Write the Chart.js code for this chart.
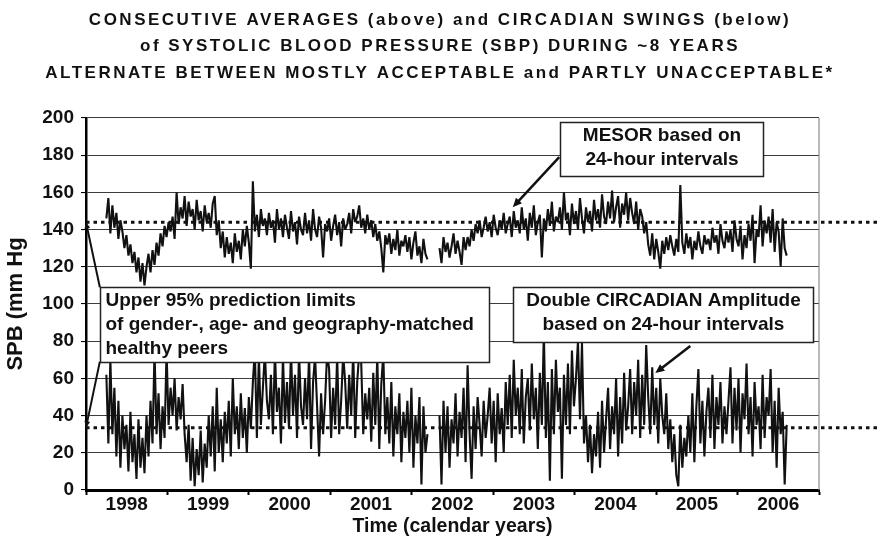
<!DOCTYPE html>
<html>
<head>
<meta charset="utf-8">
<title>SBP MESOR and circadian amplitude</title>
<script src="https://cdn.jsdelivr.net/npm/chart.js@4.4.1/dist/chart.umd.min.js"></script>
<style>
	html, body { margin: 0; padding: 0; background: #fff; }
	#chart { display: block; }
</style>
</head>
<body>
<canvas id="chart" width="880" height="538"></canvas>
<script>
(function () {
	'use strict';

	// samples, one every ~9 days from spring 1998
	var firstSampleYear = 1998.25;
	var sampleStepYears = 9 / 365.25;

	// MESOR (24-hour mean SBP), mm Hg
	var mesor = [
		146, 157, 138, 153, 141, 149, 135, 145, 139, 130,
		137, 126, 132, 122, 128, 117, 125, 112, 122, 110,
		120, 127, 117, 129, 121, 133, 126, 138, 131, 142,
		136, 144, 139, 147, 135, 160, 143, 152, 146, 158,
		142, 155, 147, 151, 140, 156, 145, 150, 139, 153,
		144, 149, 141, 154, 158, 137, 145, 130, 139, 125,
		136, 127, 133, 122, 138, 128, 134, 124, 140, 131,
		142, 133, 119, 166, 139, 148, 136, 151, 142, 146,
		137, 149, 141, 145, 133, 151, 140, 146, 136, 148,
		141, 135, 150, 139, 144, 132, 147, 140, 137, 149,
		138, 145, 134, 151, 140, 136, 147, 141, 125, 143,
		139, 146, 134, 142, 148, 137, 144, 131, 146, 140,
		143, 149, 138, 151, 144, 147, 153, 141, 146, 138,
		148, 140, 145, 136, 143, 134, 139, 130, 117, 137,
		132, 138, 127, 135, 129, 140, 126, 134, 131, 137,
		128, 136, 124, 133, 139, 126, 131, 122, 135, 127,
		124, null, null, null, null, null, 130, 122, 136, 128,
		133, 125, 131, 138, 127, 134, 128, 121, 136, 129,
		136, 131, 140, 134, 143, 138, 145, 136, 141, 147,
		139, 144, 136, 148, 141, 137, 145, 140, 149, 138,
		143, 147, 136, 150, 141, 145, 138, 152, 140, 146,
		134, 149, 141, 153, 137, 144, 148, 125, 146, 139,
		151, 142, 155, 139, 147, 144, 152, 140, 160, 145,
		149, 137, 154, 143, 150, 140, 157, 146, 138, 152,
		144, 150, 139, 156, 145, 151, 141, 159, 147, 143,
		155, 146, 161, 144, 152, 158, 141, 154, 148, 160,
		145, 157, 149, 143, 155, 140, 151, 147, 138, 144,
		132, 126, 138, 124, 135, 128, 119, 134, 127, 136,
		129, 137, 131, 126, 135, 128, 164, 133, 127, 138,
		130, 136, 124, 134, 129, 139, 131, 127, 137, 132,
		135, 129, 141, 133, 137, 127, 143, 134, 130, 139,
		133, 140, 128, 145, 135, 131, 142, 124, 137, 130,
		143, 134, 148, 122, 140, 136, 153, 131, 145, 138,
		147, 133, 151, 128, 144, 139, 120, 146, 130, 126
	];

	// double circadian amplitude, mm Hg
	var amplitude = [
		62, 25, 70, 30, 55, 18, 48, 12, 40, 22,
		35, 10, 42, 15, 30, 6, 38, 12, 28, 9,
		40, 18, 48, 25, 75, 30, 52, 22, 45, 28,
		75, 35, 55, 40, 60, 32, 50, 38, 57, 30,
		15, 35, 5, 28, 2, 22, 8, 32, 4, 25,
		12, 40, 18, 45, 10, 55, 20, 38, 15, 42,
		25, 48, 18, 60, 30, 45, 22, 52, 28, 44,
		20, 50, 33, 58, 75, 28, 72, 35, 55, 74,
		48, 38, 62, 30, 75, 42, 55, 25, 72, 36,
		58, 33, 75, 40, 62, 28, 74, 45, 35, 60,
		38, 73, 22, 58, 72, 45, 18, 52, 30, 48,
		74, 65, 28, 55, 35, 72, 30, 48, 73, 58,
		33, 62, 40, 75, 28, 58, 74, 68, 30, 52,
		38, 55, 26, 63, 35, 72, 22, 57, 73, 30,
		50, 25, 58, 18, 45, 30, 52, 15, 42, 28,
		48, 20, 55, 12, 40, 25, 50, 3, 45, 20,
		30, null, null, null, null, null, 40, 3, 48, 20,
		45, 12, 38, 25, 52, 18, 42, 28, 55, 15,
		67, 30, 6, 45, 22, 50, 35, 18, 48, 28,
		40, 55, 25, 48, 15, 52, 30, 44, 20, 58,
		35, 62, 28, 70, 40, 55, 30, 65, 25, 50,
		60, 32, 68, 38, 55, 22, 63, 35, 85, 28,
		58, 5, 65, 30, 70, 42, 55, 6, 62, 35,
		68, 30, 75, 45, 60, 80, 38, 79, 25, 40,
		15, 35, 9, 30, 18, 42, 12, 48, 20, 38,
		55, 22, 45, 30, 60, 18, 50, 25, 63, 32,
		45, 65, 30, 58, 40, 70, 28, 62, 35, 78,
		50, 30, 66, 35, 55, 25, 60, 40, 30, 52,
		22, 38, 15, 30, 8, 2, 35, 12, 28, 18,
		40, 20, 52, 15, 45, 65, 25, 48, 18, 42,
		55, 28, 62, 22, 50, 35, 58, 25, 45, 30,
		48, 66, 25, 55, 32, 60, 20, 52, 38, 68,
		30, 50, 18, 58, 35, 45, 22, 62, 28, 50,
		40, 65, 20, 48, 12, 55, 30, 42, 3, 35
	];

	// upper 95% prediction limits of matched healthy peers
	var mesorLimit = 144;
	var amplitudeLimit = 33.5;
	var limitSpan = [1998, 2007.75]; // runs on past the plot edge

	var yearLabels = ['1998', '1999', '2000', '2001', '2002', '2003', '2004', '2005', '2006'];
	var firstYear = 1998;

	var titleLines = [
		'CONSECUTIVE AVERAGES (above) and CIRCADIAN SWINGS (below)',
		'of SYSTOLIC BLOOD PRESSURE (SBP) DURING ~8 YEARS',
		'ALTERNATE BETWEEN MOSTLY ACCEPTABLE and PARTLY UNACCEPTABLE*'
	];

	// callout boxes and arrows, in data units (year, mm Hg)
	var notes = [
		{ x0: 1998.17, x1: 2002.95, top: 109, bottom: 69, align: 'left',
			lines: ['Upper 95% prediction limits', 'of gender-, age- and geography-matched', 'healthy peers'] },
		{ x0: 2003.24, x1: 2006.93, top: 109, bottom: 79.6, align: 'center',
			lines: ['Double CIRCADIAN Amplitude', 'based on 24-hour intervals'] },
		{ x0: 2003.82, x1: 2006.31, top: 197.8, bottom: 168.8, align: 'center',
			lines: ['MESOR based on', '24-hour intervals'] }
	];

	var arrows = [
		{ from: [2003.81, 179], to: [2003.24, 152], width: 2.5, head: 10 },
		{ from: [2005.42, 77.4], to: [2004.99, 62.9], width: 2.5, head: 10 },
		{ from: [1998.17, 109], to: [1998, mesorLimit], width: 2, head: 7 },
		{ from: [1998.17, 69], to: [1998, amplitudeLimit], width: 2, head: 7 }
	];

	var FONT = '"Liberation Sans", Arial, Helvetica, sans-serif';
	var INK = '#111111';

	function toPoints(values) {
		return values.map(function (v, i) {
			return { x: firstSampleYear + i * sampleStepYears, y: v };
		});
	}

	function limitPoints(value) {
		return limitSpan.map(function (yr) {
			return { x: yr, y: value };
		});
	}

	function drawArrow(ctx, x1, y1, x2, y2, width, head) {
		var a = Math.atan2(y2 - y1, x2 - x1);
		ctx.lineWidth = width;
		ctx.beginPath();
		ctx.moveTo(x1, y1);
		ctx.lineTo(x2 - Math.cos(a) * head * 0.7, y2 - Math.sin(a) * head * 0.7);
		ctx.stroke();
		ctx.beginPath();
		ctx.moveTo(x2, y2);
		ctx.lineTo(x2 - head * Math.cos(a - 0.42), y2 - head * Math.sin(a - 0.42));
		ctx.lineTo(x2 - head * Math.cos(a + 0.42), y2 - head * Math.sin(a + 0.42));
		ctx.closePath();
		ctx.fill();
	}

	// title letters are spread out in the original
	var titleSpacing = {
		id: 'titleSpacing',
		afterInit: function (chart) {
			var block = chart.titleBlock;
			if (!block) {
				return;
			}
			var draw = block.draw;
			block.draw = function () {
				var ctx = chart.ctx;
				ctx.save();
				ctx.letterSpacing = '2.5px';
				draw.apply(block, arguments);
				ctx.restore();
			};
		}
	};

	var callouts = {
		id: 'callouts',
		beforeDatasetsDraw: function (chart) {
			var area = chart.chartArea;
			var ctx = chart.ctx;
			ctx.save();
			ctx.strokeStyle = '#8c8c8c';
			ctx.lineWidth = 1.2;
			ctx.beginPath();
			ctx.moveTo(area.right, area.top);
			ctx.lineTo(area.right, area.bottom);
			ctx.stroke();
			ctx.restore();
		},
		afterDraw: function (chart) {
			var ctx = chart.ctx;
			var xs = chart.scales.x;
			var ys = chart.scales.y;

			ctx.save();
			ctx.strokeStyle = INK;
			ctx.fillStyle = INK;
			arrows.forEach(function (a) {
				drawArrow(ctx,
					xs.getPixelForValue(a.from[0]), ys.getPixelForValue(a.from[1]),
					xs.getPixelForValue(a.to[0]), ys.getPixelForValue(a.to[1]),
					a.width, a.head);
			});

			notes.forEach(function (n) {
				var left = Math.round(xs.getPixelForValue(n.x0)) + 0.5;
				var right = Math.round(xs.getPixelForValue(n.x1)) + 0.5;
				var top = Math.round(ys.getPixelForValue(n.top)) + 0.5;
				var bottom = Math.round(ys.getPixelForValue(n.bottom)) + 0.5;

				ctx.fillStyle = '#ffffff';
				ctx.fillRect(left, top, right - left, bottom - top);
				ctx.strokeStyle = '#222222';
				ctx.lineWidth = 1.5;
				ctx.strokeRect(left, top, right - left, bottom - top);

				ctx.fillStyle = INK;
				ctx.font = 'bold 19px ' + FONT;
				ctx.textBaseline = 'middle';
				ctx.textAlign = n.align;
				var tx = n.align === 'left' ? left + 5 : (left + right) / 2;
				n.lines.forEach(function (line, i) {
					ctx.fillText(line, tx, top + 13.5 + i * 24);
				});
			});
			ctx.restore();
		}
	};

	Chart.defaults.font.family = FONT;
	Chart.defaults.font.weight = 'bold';
	Chart.defaults.color = INK;

	new Chart(document.getElementById('chart'), {
		type: 'line',
		data: {
			datasets: [
				{
					label: 'MESOR limit',
					data: limitPoints(mesorLimit),
					borderColor: INK,
					borderWidth: 3,
					borderDash: [3.5, 4],
					pointRadius: 0,
					clip: false
				},
				{
					label: 'Amplitude limit',
					data: limitPoints(amplitudeLimit),
					borderColor: INK,
					borderWidth: 3,
					borderDash: [3.5, 4],
					pointRadius: 0,
					clip: false
				},
				{
					label: 'MESOR',
					data: toPoints(mesor),
					borderColor: INK,
					borderWidth: 2.1,
					borderJoinStyle: 'bevel',
					pointRadius: 0,
					tension: 0
				},
				{
					label: 'Double circadian amplitude',
					data: toPoints(amplitude),
					borderColor: INK,
					borderWidth: 2.1,
					borderJoinStyle: 'bevel',
					pointRadius: 0,
					tension: 0
				}
			]
		},
		options: {
			responsive: false,
			animation: false,
			devicePixelRatio: 1,
			plugins: {
				legend: { display: false },
				tooltip: { enabled: false },
				title: {
					display: true,
					text: titleLines,
					color: INK,
					font: { size: 17, weight: 'bold', lineHeight: '26.5px' },
					padding: { top: 7, bottom: 31.5 }
				}
			},
			scales: {
				x: {
					type: 'linear',
					min: firstYear,
					max: firstYear + yearLabels.length,
					afterFit: function (scale) {
						scale.height = 48;
					},
					border: { display: true, color: '#000', width: 3 },
					grid: {
						drawOnChartArea: false,
						drawTicks: true,
						tickLength: 5,
						tickWidth: 2,
						tickColor: function (ctx) {
							return ctx.tick && ctx.tick.value % 1 === 0 ? '#000' : 'rgba(0,0,0,0)';
						}
					},
					ticks: {
						stepSize: 0.5,
						autoSkip: false,
						maxRotation: 0,
						padding: 0,
						color: INK,
						font: { size: 19, weight: 'bold', lineHeight: 1 },
						callback: function (value) {
							if (value % 1 !== 0.5) {
								return '';
							}
							return yearLabels[Math.floor(value) - firstYear];
						}
					},
					title: {
						display: true,
						text: 'Time (calendar years)',
						color: INK,
						font: { size: 19.5, weight: 'bold', lineHeight: '22px' },
						padding: { top: 0, bottom: 0 }
					}
				},
				y: {
					min: 0,
					max: 200,
					afterFit: function (scale) {
						scale.width = 86;
					},
					border: { display: true, color: '#000', width: 2.5 },
					grid: {
						color: '#3c3c3c',
						lineWidth: 1.1,
						tickLength: 5,
						tickColor: '#000'
					},
					ticks: {
						stepSize: 20,
						padding: 7,
						color: INK,
						font: { size: 19, weight: 'bold' }
					},
					title: {
						display: true,
						text: 'SPB (mm Hg',
						color: INK,
						font: { size: 22, weight: 'bold', lineHeight: 1.2 },
						padding: { top: 3, bottom: 0 }
					}
				},
				// empty strip on the right where the limit lines run out
				margin: {
					type: 'linear',
					axis: 'y',
					position: 'right',
					min: 0,
					max: 200,
					afterFit: function (scale) {
						scale.width = 61;
					},
					border: { display: false },
					grid: { display: false },
					ticks: { display: false }
				}
			}
		},
		plugins: [titleSpacing, callouts]
	});
})();
</script>
</body>
</html>
